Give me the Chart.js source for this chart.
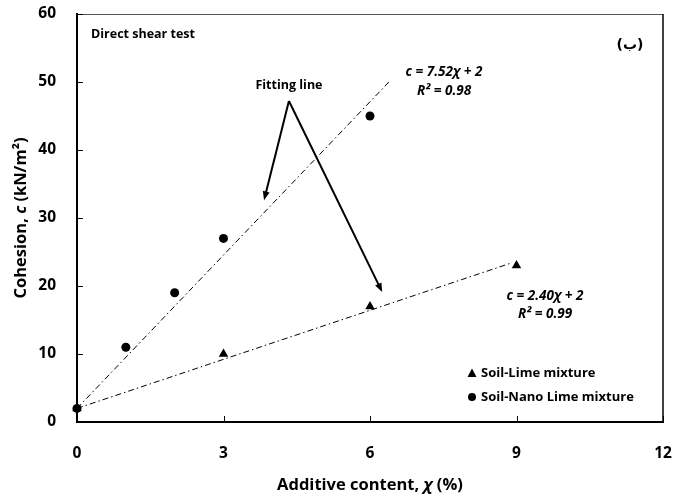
<!DOCTYPE html>
<html>
<head>
<meta charset="utf-8">
<script src="https://cdn.jsdelivr.net/npm/chart.js@4"></script>
<style>
  html, body { margin: 0; padding: 0; background: #fff; }
  #wrap { width: 675px; height: 497px; }
</style>
</head>
<body>
<div id="wrap"><canvas id="shear-chart"></canvas></div>
<script>
// measured points
const limeX = [0, 3, 6, 9];
const limeC = [2, 10, 17, 23];
const nanoX = [0, 1, 2, 3, 6];
const nanoC = [2, 11, 19, 27, 45];

// fitting lines, ends
const fitNanoX = [0, 6.4];
const fitNanoC = [2, 50.1];
const fitLimeX = [0, 8.9];
const fitLimeC = [2, 23.4];

const xTicks = [0, 3, 6, 9, 12];
const yTicks = [0, 10, 20, 30, 40, 50, 60];

// arrows: from the "Fitting line" label to each fit
const arrowFrom = {x: 4.34, y: 47.2};
const arrowTo = [{x: 3.83, y: 32.6}, {x: 6.25, y: 19.1}];

const FONT = '"Open Sans", "Liberation Sans", sans-serif';

function pts(xs, ys) {
  return xs.map((x, i) => ({x: x, y: ys[i]}));
}

function arrow(ctx, x1, y1, x2, y2) {
  const a = Math.atan2(y2 - y1, x2 - x1);
  const len = 9, w = 3.5;
  ctx.beginPath();
  ctx.moveTo(x1, y1);
  ctx.lineTo(x2 - Math.cos(a) * len * 0.8, y2 - Math.sin(a) * len * 0.8);
  ctx.stroke();
  ctx.beginPath();
  ctx.moveTo(x2, y2);
  ctx.lineTo(x2 - Math.cos(a) * len + Math.sin(a) * w, y2 - Math.sin(a) * len - Math.cos(a) * w);
  ctx.lineTo(x2 - Math.cos(a) * len - Math.sin(a) * w, y2 - Math.sin(a) * len + Math.cos(a) * w);
  ctx.closePath();
  ctx.fill();
}

// draw a line of text made of [text, italic] pieces, centred on x
function mixedText(ctx, parts, x, y, size) {
  const fonts = parts.map(p => (p[1] ? 'italic ' : '') + 'bold ' + size + 'px ' + FONT);
  let total = 0;
  const widths = parts.map((p, i) => { ctx.font = fonts[i]; const w = ctx.measureText(p[0]).width; total += w; return w; });
  let cx = x - total / 2;
  ctx.textAlign = 'left';
  parts.forEach((p, i) => {
    ctx.font = fonts[i];
    ctx.fillText(p[0], cx, y);
    cx += widths[i];
  });
}

const extras = {
  id: 'extras',
  afterDraw(chart) {
    const ctx = chart.ctx;
    const xs = chart.scales.x, ys = chart.scales.y;
    const a = chart.chartArea;
    ctx.save();
    ctx.strokeStyle = '#000';
    ctx.fillStyle = '#000';

    // frame top and right
    ctx.lineWidth = 1;
    ctx.strokeStyle = '#555';
    ctx.beginPath();
    ctx.moveTo(a.left, a.top + 0.5);
    ctx.lineTo(a.right, a.top + 0.5);
    ctx.stroke();
    ctx.strokeStyle = '#000';
    ctx.lineWidth = 1.5;
    ctx.beginPath();
    ctx.moveTo(a.right, a.top);
    ctx.lineTo(a.right, a.bottom);
    ctx.stroke();

    // inside tick marks
    ctx.lineWidth = 1;
    xTicks.forEach(v => {
      const px = Math.round(xs.getPixelForValue(v)) + 0.5;
      ctx.beginPath();
      ctx.moveTo(px, a.bottom);
      ctx.lineTo(px, a.bottom - 6);
      ctx.stroke();
    });
    yTicks.forEach(v => {
      const py = Math.round(ys.getPixelForValue(v)) + 0.5;
      ctx.beginPath();
      ctx.moveTo(a.left, py);
      ctx.lineTo(a.left + 6, py);
      ctx.stroke();
    });

    // arrows
    ctx.lineWidth = 2;
    const fx = xs.getPixelForValue(arrowFrom.x), fy = ys.getPixelForValue(arrowFrom.y);
    arrowTo.forEach(p => arrow(ctx, fx, fy, xs.getPixelForValue(p.x), ys.getPixelForValue(p.y)));

    // axis titles
    ctx.textBaseline = 'middle';
    mixedText(ctx, [['Additive content, ', false], ['χ', true], [' (%)', false]], (a.left + a.right) / 2, 485, 16.5);
    ctx.save();
    ctx.translate(21, (a.top + a.bottom) / 2);
    ctx.rotate(-Math.PI / 2);
    mixedText(ctx, [['Cohesion, ', false], ['c', true], [' (kN/m²)', false]], 0, 0, 16.5);
    ctx.restore();

    // texts
    ctx.font = 'bold 12.5px ' + FONT;
    ctx.textAlign = 'left';
    ctx.fillText('Direct shear test', a.left + 14, 34);
    ctx.textAlign = 'center';
    ctx.fillText('Fitting line', fx, 85);
    ctx.font = 'bold 14px "DejaVu Sans", sans-serif';
    ctx.fillText('(ب)', 630, 45);

    ctx.font = 'italic bold 13.5px ' + FONT;
    ctx.fillText('c = 7.52χ + 2', 444, 72);
    ctx.fillText('R² = 0.98', 444, 91);
    ctx.fillText('c = 2.40χ + 2', 545, 296);
    ctx.fillText('R² = 0.99', 545, 314);

    // legend
    ctx.font = 'bold 13px ' + FONT;
    ctx.textAlign = 'left';
    ctx.beginPath();
    ctx.moveTo(472, 368.5);
    ctx.lineTo(476.5, 377);
    ctx.lineTo(467.5, 377);
    ctx.closePath();
    ctx.fill();
    ctx.fillText('Soil-Lime mixture', 481, 373);
    ctx.beginPath();
    ctx.arc(472, 397, 4, 0, Math.PI * 2);
    ctx.fill();
    ctx.fillText('Soil-Nano Lime mixture', 481, 397);

    ctx.restore();
  }
};

new Chart(document.getElementById('shear-chart'), {
  type: 'scatter',
  data: {
    datasets: [
      {
        label: 'Fit nano',
        data: pts(fitNanoX, fitNanoC),
        showLine: true,
        borderColor: '#000',
        borderWidth: 1,
        borderDash: [6, 3, 1.5, 3],
        pointRadius: 0
      },
      {
        label: 'Fit lime',
        data: pts(fitLimeX, fitLimeC),
        showLine: true,
        borderColor: '#000',
        borderWidth: 1,
        borderDash: [6, 3, 1.5, 3],
        pointRadius: 0
      },
      {
        label: 'Soil-Lime mixture',
        data: pts(limeX, limeC),
        pointStyle: 'triangle',
        pointRadius: 5.5,
        backgroundColor: '#000',
        borderColor: '#000',
        borderWidth: 0
      },
      {
        label: 'Soil-Nano Lime mixture',
        data: pts(nanoX, nanoC),
        pointStyle: 'circle',
        pointRadius: 4.5,
        backgroundColor: '#000',
        borderColor: '#000',
        borderWidth: 0
      }
    ]
  },
  options: {
    responsive: true,
    maintainAspectRatio: false,
    animation: false,
    clip: false,
    layout: { padding: { left: 0, right: 12, top: 14, bottom: 0 } },
    plugins: {
      legend: { display: false },
      tooltip: { enabled: false }
    },
    scales: {
      x: {
        type: 'linear',
        min: 0,
        max: 12,
        afterBuildTicks: s => { s.ticks = xTicks.map(v => ({value: v})); },
        afterFit: s => { s.height = 75; s.paddingLeft = 0; s.paddingRight = 0; },
        grid: { display: false, drawTicks: false },
        border: { display: true, color: '#000', width: 2 },
        ticks: { color: '#000', padding: 22, font: { family: FONT, size: 15.5, weight: 'bold' } }
      },
      y: {
        type: 'linear',
        min: 0,
        max: 60,
        afterBuildTicks: s => { s.ticks = yTicks.map(v => ({value: v})); },
        afterFit: s => { s.width = 77; s.paddingTop = 0; s.paddingBottom = 0; },
        grid: { display: false, drawTicks: false },
        border: { display: true, color: '#000', width: 2 },
        ticks: { color: '#000', padding: 21, font: { family: FONT, size: 15.5, weight: 'bold' } }
      }
    }
  },
  plugins: [extras]
});
</script>
</body>
</html>
